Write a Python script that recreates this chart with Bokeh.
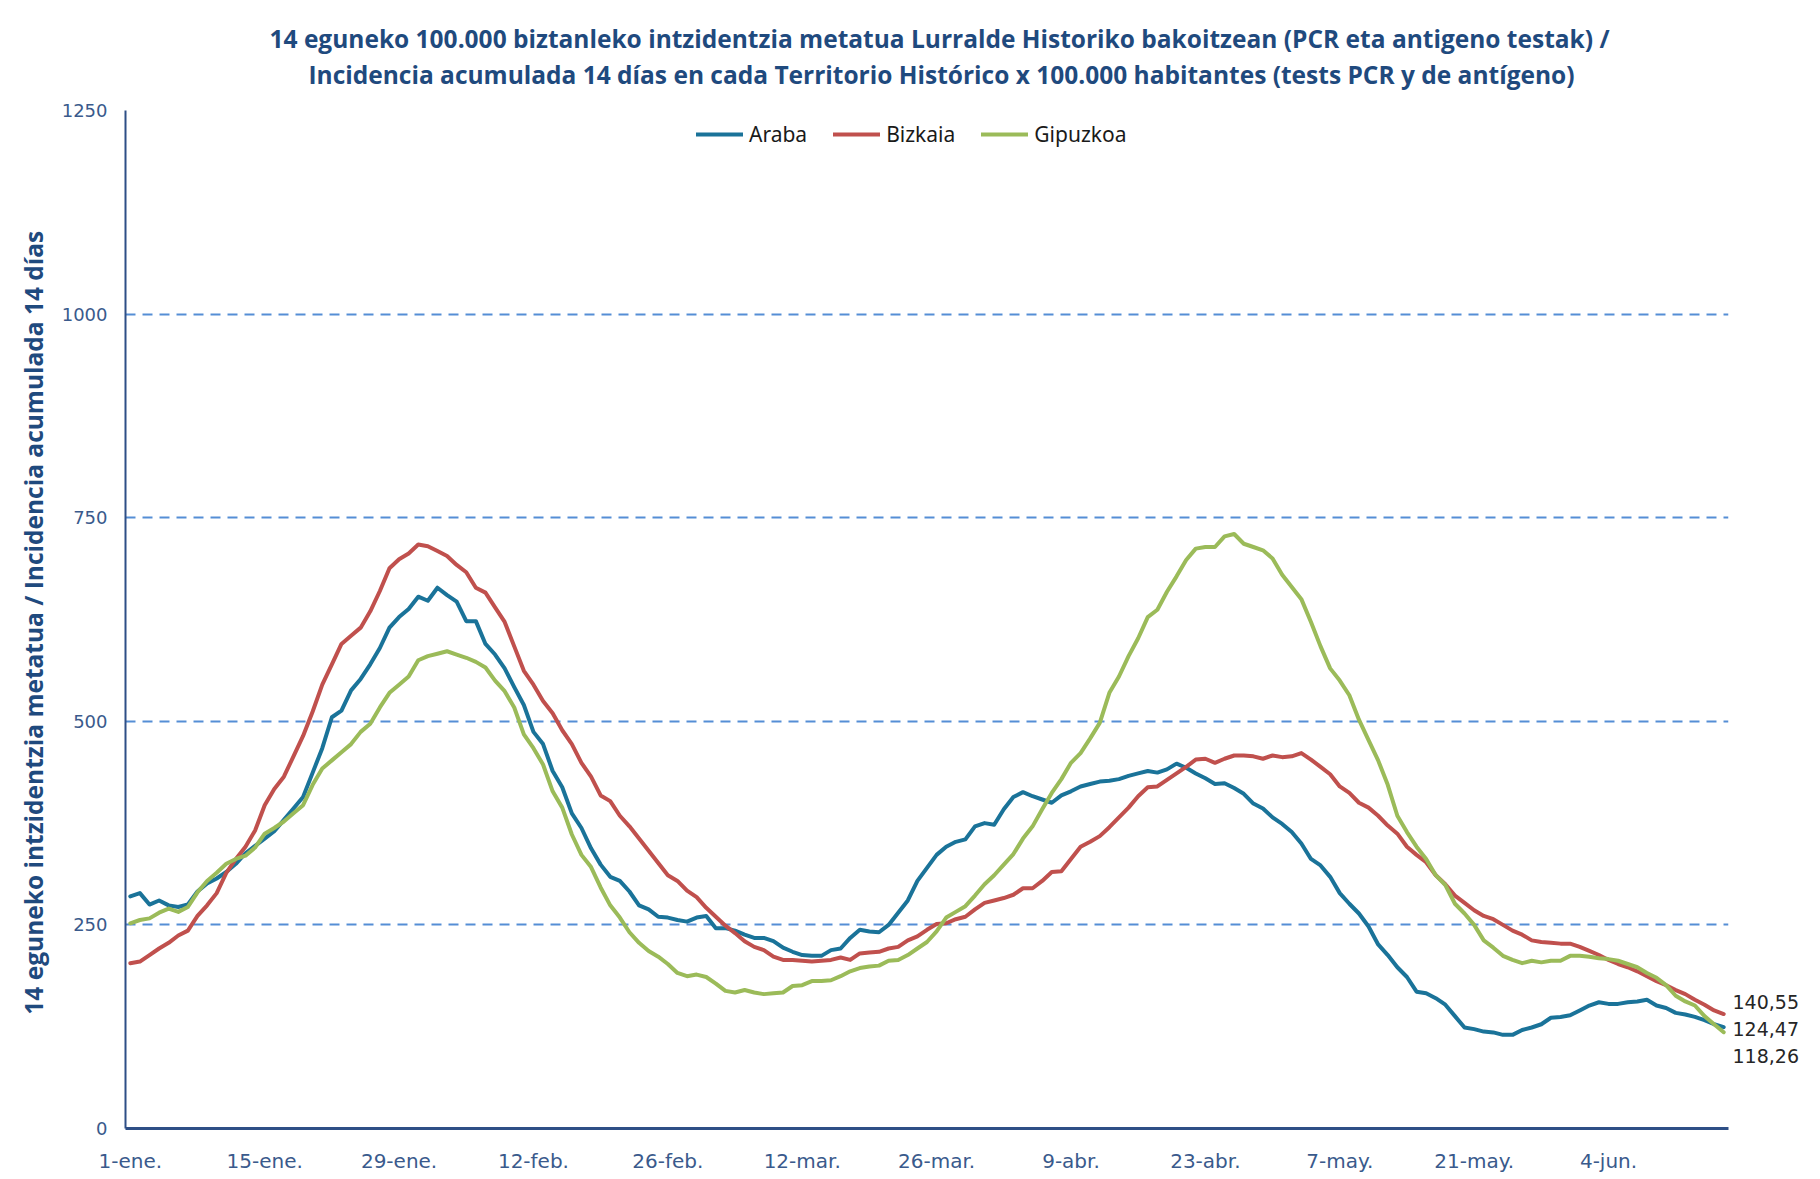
from bokeh.plotting import figure
from bokeh.models import Range1d, FixedTicker, Legend, LegendItem, Title, LinearAxis
from bokeh.embed import file_html
from bokeh.resources import INLINE

# ---- data (14-day cumulative incidence per 100.000, 1-ene. .. 16-jun.) ----
araba = [285, 289, 275, 280, 274, 272, 275, 291, 301, 307, 315, 325, 338, 347, 356, 365, 379, 393, 407, 437,
         467, 505, 513, 538, 552, 570, 590, 615, 628,
         638, 653, 648, 664, 655, 647, 623, 623, 595, 582, 565, 542, 520, 487, 472, 439, 419, 387, 369, 344,
         324, 309, 304, 291, 274, 269, 260, 259,
         256, 254, 259, 261, 246, 246, 243, 238, 234, 234, 230, 222, 217, 213, 212, 212, 219, 221, 234, 244,
         242, 241, 250, 265, 280, 304, 320, 336,
         346, 352, 355, 371, 375, 373, 392, 407, 413, 408, 404, 400, 409, 414, 420, 423, 426, 427, 429, 433,
         436, 439, 437, 441, 448, 443, 436, 430,
         423, 424, 418, 411, 399, 393, 382, 374, 364, 350, 331, 323, 309, 289, 276, 264, 248, 226, 213, 198,
         186, 168, 166, 160, 152, 138, 124, 122,
         119, 118, 115, 115, 121, 124, 128, 136, 137, 139, 145, 151, 155, 153, 153, 155, 156, 158, 151, 148,
         142, 140, 137, 133, 128, 124.47]

bizkaia = [203, 205, 213, 221, 228, 237, 243, 261, 274, 289, 314, 331, 346, 366, 397, 417, 432, 457, 482, 512,
           545, 570, 595, 605, 615, 635, 660, 688, 699,
           706, 717, 715, 709, 703, 692, 683, 664, 658, 640, 622, 592, 562, 545, 525, 510, 489, 472, 449, 432,
           409, 402, 384, 371, 356, 341, 326, 311,
           304, 292, 284, 271, 260, 249, 240, 230, 223, 219, 211, 207, 207, 206, 205, 206, 207, 210, 207, 215,
           216, 217, 221, 223, 231, 236, 244, 251,
           252, 257, 260, 269, 277, 280, 283, 287, 295, 295, 304, 315, 316, 331, 346, 352, 359, 370, 382, 394,
           408, 419, 420, 428, 436, 444, 453, 454,
           449, 454, 458, 458, 457, 454, 458, 456, 457, 461, 453, 444, 435, 420, 412, 400, 394, 384, 372, 362,
           346, 336, 327, 311, 300, 286, 277, 268,
           261, 257, 250, 243, 238, 231, 229, 228, 227, 227, 223, 218, 213, 207, 202, 198, 193, 187, 181, 176,
           170, 165, 158, 152, 145, 140.55]

gipuzkoa = [252, 256, 258, 265, 270, 266, 272, 290, 304, 314, 325, 331, 335, 345, 362, 369, 377, 387, 397, 422,
            442, 452, 462, 472, 487, 497, 517, 535, 545,
            555, 575, 580, 583, 586, 582, 578, 573, 566, 550, 537, 517, 484, 467, 447, 414, 394, 361, 336, 321,
            296, 274, 259, 241, 228, 218, 211, 202,
            191, 187, 189, 186, 178, 169, 167, 170, 167, 165, 166, 167, 175, 176, 181, 181, 182, 187, 193, 197,
            199, 200, 206, 207, 213, 221, 229, 242,
            259, 266, 273, 286, 300, 311, 324, 337, 356, 371, 392, 412, 429, 449, 461, 479, 498, 535, 555, 580,
            602, 628, 637, 659, 678, 698, 712, 714,
            714, 727, 730, 718, 714, 710, 700, 680, 665, 650, 622, 592, 565, 550, 532, 502, 477, 452, 422, 384,
            364, 346, 331, 311, 299, 276, 264, 250,
            231, 222, 212, 207, 203, 206, 204, 206, 206, 212, 212, 211, 209, 208, 206, 202, 198, 191, 185, 176,
            163, 156, 151, 138, 128, 118.26]

series_names = ["Araba", "Bizkaia", "Gipuzkoa"]
series_colors = ["#1A7399", "#C0504D", "#9BBB59"]

tick_days = [0, 14, 28, 42, 56, 70, 84, 98, 112, 126, 140, 154]
tick_labels = ["1-ene.", "15-ene.", "29-ene.", "12-feb.", "26-feb.", "12-mar.",
               "26-mar.", "9-abr.", "23-abr.", "7-may.", "21-may.", "4-jun."]
y_ticks = [0, 250, 500, 750, 1000, 1250]

title1 = "14 eguneko 100.000 biztanleko intzidentzia metatua Lurralde Historiko bakoitzean (PCR eta antigeno  testak) /"
title2 = "Incidencia acumulada  14 días en cada Territorio Histórico x 100.000 habitantes (tests PCR y de antígeno)"
y_title = "14 eguneko intzidentzia metatua / Incidencia acumulada  14 días"

# ---- layout constants ----
n = len(araba)
days = list(range(n))
W, H = 1816, 1175
LEFT, TOP, FRAME_W, FRAME_H = 125, 110, 1603, 1018
Y_MAX = 1250
PX_PER_UNIT = FRAME_H / Y_MAX

TITLE_COLOR = "#1F4A7E"
AXIS_COLOR = "#2E4F86"
LABEL_COLOR = "#3A5A8C"
TITLE_FONT = dict(text_font="Open Sans", text_font_size="24.5px", text_font_style="bold",
                  text_color=TITLE_COLOR)

p = figure(width=W, height=H, output_backend="svg", toolbar_location=None,
           x_range=Range1d(-0.5, n - 0.5), y_range=Range1d(0, Y_MAX),
           min_border_left=LEFT, min_border_right=W - LEFT - FRAME_W,
           min_border_top=TOP, min_border_bottom=H - TOP - FRAME_H,
           background_fill_color="white", border_fill_color="white")

# titles: blank (white) spacer next to the frame, then line 2, then line 1
p.add_layout(Title(text=".", text_font_size="10px", text_color="white", standoff=9), "above")
p.add_layout(Title(text=title2, align="left", offset=183, standoff=1, **TITLE_FONT), "above")
p.add_layout(Title(text=title1, align="left", offset=144, standoff=1, **TITLE_FONT), "above")

p.outline_line_color = None

# x axis
p.xaxis.ticker = FixedTicker(ticks=tick_days)
p.xaxis.major_label_overrides = {d: lab for d, lab in zip(tick_days, tick_labels)}
p.xaxis.major_tick_line_color = None
p.xaxis.minor_tick_line_color = None
p.xaxis.major_tick_out = 0
p.xaxis.major_tick_in = 0
p.xaxis.axis_line_color = AXIS_COLOR
p.xaxis.axis_line_width = 3
p.xaxis.major_label_text_font = "DejaVu Sans"
p.xaxis.major_label_text_font_size = "20px"
p.xaxis.major_label_text_color = LABEL_COLOR
p.xaxis.major_label_standoff = 20

# y axis
p.yaxis.ticker = FixedTicker(ticks=y_ticks)
p.yaxis.major_tick_line_color = None
p.yaxis.minor_tick_line_color = None
p.yaxis.major_tick_out = 0
p.yaxis.major_tick_in = 0
p.yaxis.axis_line_color = AXIS_COLOR
p.yaxis.axis_line_width = 2
p.yaxis.major_label_text_font = "DejaVu Sans"
p.yaxis.major_label_text_font_size = "18px"
p.yaxis.major_label_text_color = LABEL_COLOR
p.yaxis.major_label_standoff = 18
p.yaxis.axis_label = y_title
p.yaxis.axis_label_text_font = "Open Sans"
p.yaxis.axis_label_text_font_size = "24.5px"
p.yaxis.axis_label_text_font_style = "bold"
p.yaxis.axis_label_text_color = TITLE_COLOR
p.yaxis.axis_label_standoff = 9

p.xgrid.grid_line_color = None
p.ygrid.grid_line_color = "#558ED5"
p.ygrid.grid_line_dash = "10 7"
p.ygrid.grid_line_width = 2

# lines
items = []
all_vals = [araba, bizkaia, gipuzkoa]
for name, color, vals in zip(series_names, series_colors, all_vals):
    r = p.line(days, vals, line_color=color, line_width=4, line_join="round", line_cap="round")
    items.append(LegendItem(label=name, renderers=[r]))

legend = Legend(items=items, orientation="horizontal", location=(571, 980),
                padding=0, margin=0, spacing=26, glyph_width=47, glyph_height=20,
                label_standoff=6, label_height=20,
                label_text_font="Noto Sans", label_text_font_size="21px",
                label_text_color="#1A1A1A", label_text_baseline="middle",
                background_fill_alpha=0, border_line_color=None)
p.add_layout(legend)

# end-value labels: drawn as a label-only axis on the right, next to each line's last point
end_shift_px = [-2, 12, -24]          # small vertical de-overlap shifts, in pixels
end_pos = [round(v[-1] + dy / PX_PER_UNIT, 2) for v, dy in zip(all_vals, end_shift_px)]
end_text = [f"{v[-1]:.2f}".replace(".", ",") for v in all_vals]
end_axis = LinearAxis(ticker=FixedTicker(ticks=end_pos),
                      major_label_overrides={pos: t for pos, t in zip(end_pos, end_text)},
                      axis_line_color=None, major_tick_line_color=None, minor_tick_line_color=None,
                      major_tick_out=0, major_tick_in=0, major_label_standoff=4,
                      major_label_text_font="DejaVu Sans", major_label_text_font_size="19px",
                      major_label_text_color="#262626")
p.add_layout(end_axis, "right")

open("out.html", "w").write(file_html(p, INLINE))
